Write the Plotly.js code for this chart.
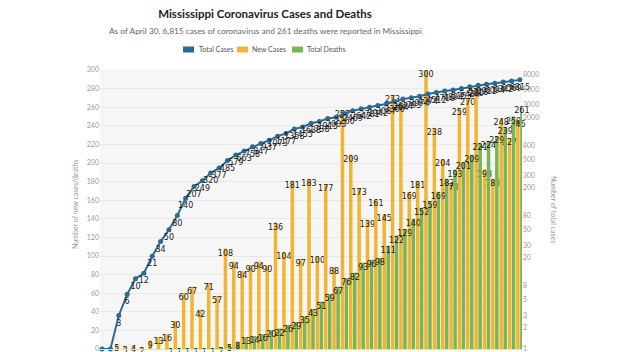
<!DOCTYPE html>
<html>
<head>
<meta charset="utf-8">
<script src="https://cdn.plot.ly/plotly-3.0.1.min.js"></script>
<style>
html,body{margin:0;padding:0;overflow:hidden;background:#fff;width:622px;height:352px;}
#chart{width:622px;height:420px;}
</style>
</head>
<body>
<div id="chart"></div>
<script>
var dates = ['Mar 11','Mar 12','Mar 13','Mar 14','Mar 15','Mar 16','Mar 17','Mar 18','Mar 19','Mar 20',
  'Mar 21','Mar 22','Mar 23','Mar 24','Mar 25','Mar 26','Mar 27','Mar 28','Mar 29','Mar 30','Mar 31',
  'Apr 1','Apr 2','Apr 3','Apr 4','Apr 5','Apr 6','Apr 7','Apr 8','Apr 9','Apr 10','Apr 11','Apr 12',
  'Apr 13','Apr 14','Apr 15','Apr 16','Apr 17','Apr 18','Apr 19','Apr 20','Apr 21','Apr 22','Apr 23',
  'Apr 24','Apr 25','Apr 26','Apr 27','Apr 28','Apr 29','Apr 30'];

var totalCases = [1,1,3,6,10,12,21,34,50,80,140,207,249,320,377,485,579,663,758,847,937,1073,1177,1358,
  1455,1638,1738,1915,2003,2260,2469,2642,2781,2942,3087,3360,3624,3793,3974,4274,4512,4716,4894,5153,
  5434,5718,5911,6094,6342,6569,6815];

var newCases = [null,null,5,3,4,2,9,13,16,30,60,67,42,71,57,108,94,84,90,94,90,136,104,181,97,183,100,
  177,88,257,209,173,139,161,145,273,264,169,181,300,238,204,178,259,270,280,193,183,248,227,246];

var totalDeaths = [null,null,null,null,null,null,null,null,1,1,1,1,1,1,2,5,8,13,14,16,20,22,26,29,35,43,
  51,59,67,76,82,93,96,98,111,122,129,140,152,159,169,183,193,201,209,221,224,229,239,250,261];

var leftTicks = [0,20,40,60,80,100,120,140,160,180,200,220,240,260,280,300];
var rightTicks = [1,2,3,5,8,20,30,50,80,200,300,500,800,2000,3000,5000,8000];

var cBlue = '#2b6a94', cYellow = '#f0b534', cGreen = '#7ab552';
var labelFont = {family:'DejaVu Sans, sans-serif', size:8, color:'#1a1a1a'};

var traces = [
  {type:'bar', name:'New Cases', x:dates, y:newCases, marker:{color:cYellow},
   text:newCases.map(function(v){return v==null?'':String(v);}),
   textposition:'inside', insidetextanchor:'end', constraintext:'none', textangle:0,
   insidetextfont:labelFont, cliponaxis:false, hoverinfo:'skip'},
  {type:'bar', name:'Total Deaths', x:dates, y:totalDeaths, marker:{color:cGreen},
   text:totalDeaths.map(function(v){return v==null?'':String(v);}),
   textposition:'inside', insidetextanchor:'end', constraintext:'none', textangle:0,
   insidetextfont:labelFont, cliponaxis:false, hoverinfo:'skip'},
  {type:'scatter', mode:'lines+markers+text', name:'Total Cases', x:dates, y:totalCases, yaxis:'y2',
   line:{color:cBlue, width:2}, marker:{color:cBlue, size:5},
   text:totalCases.map(String), textposition:'bottom center', textfont:labelFont,
   cliponaxis:false, hoverinfo:'skip'}
];

var H = 420;
function py(pix){ return (349 - pix) / 279; }
function px(pix){ return (pix - 100) / 422; }

var legendItems = [
  {label:'Total Cases', color:cBlue, x0:183, x1:194, tx:197},
  {label:'New Cases', color:cYellow, x0:237, x1:248, tx:250},
  {label:'Total Deaths', color:cGreen, x0:292, x1:303, tx:305}
];

var shapes = legendItems.map(function(it){
  return {type:'rect', xref:'paper', yref:'paper', x0:px(it.x0), x1:px(it.x1), y0:py(52.5), y1:py(46.5),
    fillcolor:it.color, line:{width:0}, layer:'above'};
});

var annotations = legendItems.map(function(it){
  return {xref:'paper', yref:'paper', x:px(it.tx), y:py(49.5), xanchor:'left', yanchor:'middle',
    text:it.label, showarrow:false, font:{family:'Lato, sans-serif', size:7, color:'#555'}};
});
annotations.push({xref:'paper', yref:'paper', x:px(265), y:py(31), xanchor:'center', yanchor:'middle',
  text:'As of April 30, 6,815 cases of coronavirus and 261 deaths were reported in Mississippi',
  showarrow:false, font:{family:'Lato, sans-serif', size:8.3, color:'#666'}});
annotations.push({xref:'paper', yref:'paper', x:px(75), y:py(205), xanchor:'center', yanchor:'middle',
  text:'Number of new cases/deaths', textangle:-90, showarrow:false,
  font:{family:'Lato, sans-serif', size:7, color:'#999'}});
annotations.push({xref:'paper', yref:'paper', x:px(554), y:py(209), xanchor:'center', yanchor:'middle',
  text:'Number of total cases', textangle:90, showarrow:false,
  font:{family:'Lato, sans-serif', size:7, color:'#999'}});

var layout = {
  width:622, height:H,
  margin:{l:100, r:100, t:70, b:H-349, pad:0},
  paper_bgcolor:'#ffffff', plot_bgcolor:'#f6f6f6',
  showlegend:false,
  barmode:'group', bargap:0.04, bargroupgap:0.12,
  title:{text:'<b>Mississippi Coronavirus Cases and Deaths</b>', x:265/622, xanchor:'center',
    xref:'container', yref:'container', y:1-14/H, yanchor:'middle',
    font:{family:'Lato, sans-serif', size:11.5, color:'#222'}},
  xaxis:{type:'category', range:[-0.25, 50.25], showgrid:false, zeroline:false,
    showline:true, linecolor:'#dddddd', tickfont:{family:'Lato, sans-serif', size:7.5, color:'#999'},
    ticks:''},
  yaxis:{range:[0,300], tickvals:leftTicks, ticktext:leftTicks.map(String), showgrid:true,
    gridcolor:'#e9e9e9', gridwidth:1, zeroline:false, showline:false, ticks:'',
    tickfont:{family:'Lato, sans-serif', size:7, color:'#9a9a9a'}},
  yaxis2:{type:'log', overlaying:'y', side:'right', range:[0, 3.974], tickvals:rightTicks,
    ticktext:rightTicks.map(String), showgrid:false, zeroline:false, showline:false, ticks:'',
    tickfont:{family:'Lato, sans-serif', size:7, color:'#9a9a9a'}},
  shapes:shapes,
  annotations:annotations
};

Plotly.newPlot('chart', traces, layout, {displayModeBar:false, staticPlot:true});
</script>
</body>
</html>
